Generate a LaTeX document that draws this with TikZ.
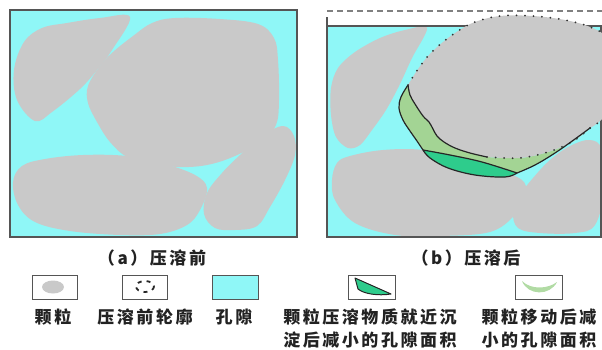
\documentclass[tikz,border=0pt]{standalone}
\usepackage{fontspec}
\newfontfamily\cjk[LetterSpace=15]{Noto Sans CJK SC}
\definecolor{porecol}{RGB}{143,247,247}
\definecolor{graincol}{RGB}{201,201,201}
\definecolor{movegreen}{RGB}{163,212,148}
\definecolor{depgreen}{RGB}{46,204,140}
\definecolor{framecol}{RGB}{85,85,85}
\definecolor{inkcol}{RGB}{34,34,34}
\begin{document}
\begin{tikzpicture}[x=1pt,y=-1pt,
  grain/.style={fill=graincol},
  frame/.style={draw=framecol,line width=1.3pt},
  outline/.style={draw=black!85,line width=1.2pt,line join=round},
  dotline/.style={draw=black!80,line width=2pt,line cap=round,dash pattern=on 0pt off 8.5pt},
  legbox/.style={draw=framecol,line width=1pt},
  caption/.style={font=\cjk\bfseries\fontsize{17}{20}\selectfont,text=inkcol},
  label/.style={font=\cjk\bfseries\fontsize{17}{23}\selectfont,text=inkcol,align=center}]
\useasboundingbox (0,0) rectangle (602,349);
\clip (0,0) rectangle (602,349);

% ---------- (a) before pressure solution ----------
\fill[porecol] (10,10) rectangle (297,237);
\fill[grain] plot[smooth cycle,tension=0.6] coordinates {(130,17) (100,18) (67,23) (42,28) (24,42) (14,70) (17,100) (35,121) (52,112) (80,89) (97,70) (112,50)};
\fill[grain] plot[smooth cycle,tension=0.6] coordinates {(113,52) (133,36) (152,23) (175,18) (220,19) (258,24) (274,38) (278,60) (279,100) (276,125) (262,141) (235,156) (207,165) (178,167) (150,163) (127,157) (110,142) (97,122) (88,103) (88,86) (100,66)};
\fill[grain] plot[smooth cycle,tension=0.6] coordinates {(13,182) (22,166) (45,159) (83,155) (127,156) (165,164) (195,175) (207,188) (200,210) (187,225) (160,234) (120,235) (70,231) (35,222) (18,205)};
\fill[grain] plot[smooth cycle,tension=0.6] coordinates {(283,126) (294,136) (295,155) (285,180) (270,207) (257,226) (235,230) (215,228) (204,214) (207,193) (222,173) (240,155) (262,136)};
\draw[frame] (10,10) rectangle (297,237);

% ---------- (b) after pressure solution ----------
\draw[draw=black!50,line width=1.5pt,dash pattern=on 6pt off 4pt] (327,11) -- (602,11);
\fill[porecol] (327,26) rectangle (601,237);
\begin{scope}
  \clip (327,26) rectangle (601,237);
  \fill[grain] plot[smooth cycle,tension=0.55] coordinates {(427,28) (405,30) (380,38) (355,52) (338,68) (331,88) (331,115) (336,137) (348,148) (360,145) (372,130) (386,110) (399,86) (412,58)};
  \fill[grain] plot[smooth cycle,tension=0.6] coordinates {(337,163) (350,156) (383,150) (423,150) (470,160) (505,172) (524,182) (525,198) (515,215) (490,232) (440,236) (395,235) (355,223) (335,200) (332,180)};
  \fill[grain] plot[smooth cycle,tension=0.6] coordinates {(570,146) (590,140) (602,150) (604,190) (595,225) (575,233) (540,233) (518,228) (513,212) (520,195) (533,178) (550,160)};
\end{scope}
\draw[frame] (327,17) -- (327,237) -- (601,237) -- (601,26) -- (327,26);

% displaced grain: old outline dotted, grey body
\coordinate (tip) at (408,85);
\coordinate (lensL) at (423,150);
\coordinate (lensR) at (517,173);
\coordinate (rtip) at (590,128);
\coordinate (dotend) at (487,158);

% area lost by grain movement (light green)
\fill[movegreen] (tip)
  -- plot[smooth,tension=0.6] coordinates {(408,85) (401,97) (399,108) (403,120) (410,131) (417,141) (423,150)}
  -- plot[smooth,tension=0.6] coordinates {(423,150) (450,155) (482,162) (517,173)}
  -- plot[smooth,tension=0.6] coordinates {(517,173) (535,165) (555,153) (575,139) (590,128)}
  -- plot[smooth,tension=0.6] coordinates {(590,128) (572,142) (548,152) (520,158) (487,157)}
  -- plot[smooth,tension=0.6] coordinates {(487,157) (470,153) (455,148) (444,142) (437,136) (433,129) (429,122) (423,116) (415,104) (410,95) (408,85)}
  -- cycle;

% grain body
\fill[grain] (tip)
  -- plot[smooth,tension=0.6] coordinates {(408,85) (418,69) (429,55) (443,42) (458,31) (475,22) (500,16) (533,16) (565,20) (590,27) (606,38) (614,70) (612,105) (600,121) (590,128)}
  -- plot[smooth,tension=0.6] coordinates {(590,128) (572,142) (548,152) (520,158) (487,157)}
  -- plot[smooth,tension=0.6] coordinates {(487,157) (470,153) (455,148) (444,142) (437,136) (433,129) (429,122) (423,116) (415,104) (410,95) (408,85)}
  -- cycle;

% area lost by local precipitation (dark green lens)
\fill[depgreen] (lensL)
  -- plot[smooth,tension=0.6] coordinates {(423,150) (450,155) (482,162) (517,173)}
  -- plot[smooth,tension=0.6] coordinates {(517,173) (505,177) (475,175) (448,168) (430,158) (423,150)}
  -- cycle;

% outlines
\draw[outline] plot[smooth,tension=0.6] coordinates {(408,85) (401,97) (399,108) (403,120) (410,131) (417,141) (423,150)};
\draw[outline] plot[smooth,tension=0.6] coordinates {(423,150) (450,155) (482,162) (517,173)};
\draw[outline] plot[smooth,tension=0.6] coordinates {(517,173) (505,177) (475,175) (448,168) (430,158) (423,150)};
\draw[outline] plot[smooth,tension=0.6] coordinates {(517,173) (535,165) (555,153) (575,139) (590,128)};
\draw[outline] plot[smooth,tension=0.6] coordinates {(487,157) (470,153) (455,148) (444,142) (437,136) (433,129) (429,122) (423,116) (415,104) (410,95) (408,85)};
\draw[dotline] plot[smooth,tension=0.6] coordinates {(408,85) (418,69) (429,55) (443,42) (458,31) (475,22) (500,16) (533,16) (565,20) (590,27) (606,38) (614,70) (612,105) (600,121) (590,128)};
\draw[dotline] plot[smooth,tension=0.6] coordinates {(590,128) (572,142) (548,152) (520,158) (487,157)};

% ---------- captions ----------
\node[caption] (capa) at (152,258) {（a）压溶前};
\node[caption] (capb) at (466,258) {（b）压溶后};

% ---------- legend ----------
\draw[legbox] (32,275) rectangle (77,299);
\fill[graincol] (53,287) ellipse [x radius=11,y radius=6.5];
\draw[legbox] (122,275) rectangle (167,299);
\draw[black!85,line width=1.8pt,dash pattern=on 4pt off 5pt] (145,286.5) ellipse [x radius=9,y radius=5.5];
\draw[legbox,fill=porecol] (212,275) rectangle (258,299);
\draw[legbox] (348,275) rectangle (395,299);
\draw[outline,line width=1pt,fill=depgreen] (355,278) -- (391,294) .. controls (378,296) and (364,294) .. (358,289) -- cycle;
\draw[legbox] (515,275) rectangle (562,299);
\fill[movegreen!85!white] (522,281) .. controls (528,296) and (550,296) .. (557,282)
  .. controls (548,289) and (531,290) .. (522,281) -- cycle;

\node[label] (l1) at (53,317) {颗粒};
\node[label] (l2) at (145,317) {压溶前轮廓};
\node[label] (l3) at (234,317) {孔隙};
\node[label] (l4) at (370,328.5) {颗粒压溶物质就近沉\\淀后减小的孔隙面积};
\node[label] (l5) at (539,328.5) {颗粒移动后减\\小的孔隙面积};
\end{tikzpicture}
\end{document}
